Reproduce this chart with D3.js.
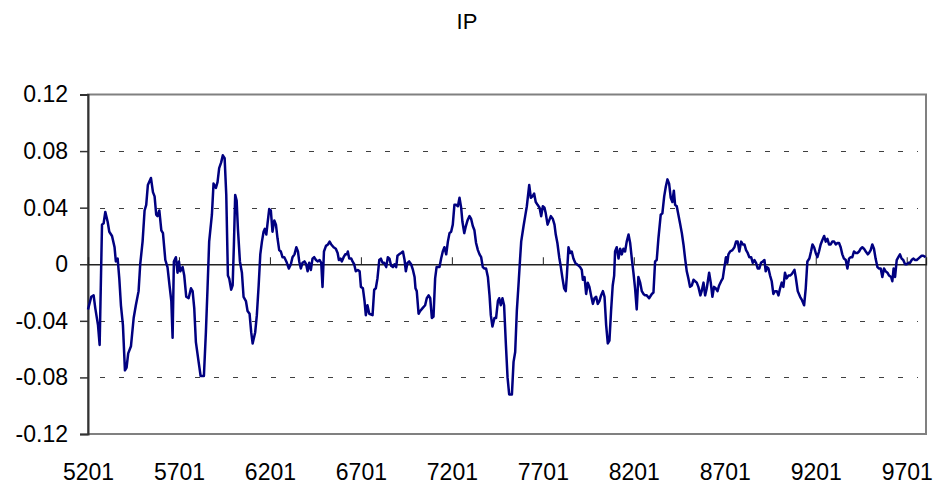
<!DOCTYPE html>
<html>
  <head>
    <meta charset="utf-8">
    <script src="https://d3js.org/d3.v7.min.js"></script>
    <title>IP</title>
    <style>
    body {
      margin: 0;
      background-color: #fff;
    }
    svg {
      display: block;
      font-family: "Liberation Sans", Arial, sans-serif;
    }
    .line {
      fill: none;
      stroke: #000080;
      stroke-width: 2.5px;
      stroke-linejoin: round;
    }
    .grid line {
      stroke: #404040;
      stroke-width: 1px;
      stroke-dasharray: 5, 14;
    }
    </style>
  </head>
  <body>
    <script type="text/javascript">
      let idx = [
        5201, 5219, 5232, 5241, 5256, 5265, 5278, 5287, 5296, 5309, 5318, 5333, 5347, 5354, 5364, 5373,
        5382, 5393, 5404, 5413, 5422, 5437, 5452, 5464, 5479, 5488, 5501, 5512, 5521, 5530, 5547, 5558,
        5567, 5576, 5583, 5593, 5604, 5613, 5626, 5638, 5649, 5659, 5666, 5673, 5684, 5693, 5701, 5708,
        5721, 5730, 5741, 5754, 5767, 5776, 5785, 5794, 5809, 5820, 5838, 5849, 5858, 5867, 5882, 5891,
        5904, 5913, 5922, 5933, 5942, 5952, 5961,
        5970, 5977, 5988, 5996, 6003, 6010, 6018, 6025, 6036, 6047, 6056, 6069, 6078, 6089, 6098, 6106,
        6120, 6129, 6139, 6148, 6157, 6166, 6173, 6181, 6188, 6197, 6206, 6215, 6225, 6234, 6243, 6252,
        6261, 6270, 6280, 6291, 6305, 6316, 6325, 6336, 6346, 6355, 6362, 6371, 6380, 6391, 6400, 6408,
        6417, 6426, 6435, 6444, 6454, 6463, 6474, 6483, 6490, 6498, 6509, 6520, 6529, 6538, 6551, 6563,
        6573, 6580, 6589, 6596, 6606, 6615, 6624, 6629, 6637, 6648, 6655, 6664, 6673, 6684, 6694, 6701,
        6712, 6721, 6728, 6737, 6747,
        6765, 6774, 6783, 6792, 6802, 6811, 6820, 6829, 6840, 6849, 6858, 6867, 6877, 6886, 6895, 6902,
        6911, 6922, 6932, 6941, 6948, 6957, 6966, 6977, 6987, 6996, 7001, 7008, 7018, 7027, 7040, 7054,
        7063, 7073, 7082, 7091, 7100, 7109, 7117, 7133, 7142, 7151, 7160, 7170, 7179, 7188, 7197, 7206,
        7215, 7225, 7234, 7243, 7252, 7259, 7269, 7278, 7287, 7298, 7307, 7316, 7325, 7334, 7344, 7353,
        7362, 7371, 7380, 7389, 7399, 7408, 7415, 7424, 7435, 7444, 7454, 7461, 7470, 7479, 7488, 7498,
        7507, 7516,
        7531, 7540, 7549, 7558, 7567, 7576, 7582, 7595, 7604, 7613, 7626, 7635, 7644, 7653, 7662, 7672,
        7683, 7692, 7701, 7710, 7717, 7727, 7736, 7745, 7756, 7765, 7772, 7781, 7791, 7800, 7809, 7818,
        7827, 7833, 7842, 7851, 7860, 7869, 7879, 7888, 7897, 7906, 7915, 7921, 7930, 7939, 7948, 7957,
        7966, 7976, 7985, 7994, 8003, 8012, 8021, 8031, 8040, 8049, 8058, 8067, 8076, 8085, 8093, 8098,
        8107, 8117, 8126, 8135, 8144, 8153, 8162, 8172, 8181, 8190, 8199, 8208, 8217, 8226, 8236, 8245,
        8254, 8263, 8272, 8285,
        8300, 8309, 8318, 8327, 8336, 8349, 8358, 8368, 8377, 8386, 8395, 8404, 8413, 8421, 8428, 8437,
        8446, 8455, 8465, 8474, 8483, 8492, 8501, 8510, 8520, 8529, 8538, 8547, 8556, 8567, 8574, 8584,
        8593, 8602, 8615, 8624, 8633, 8642, 8651, 8661, 8670, 8681, 8690, 8699, 8708, 8715, 8721, 8730,
        8743, 8754, 8763, 8772, 8781, 8791, 8800, 8809, 8818, 8827, 8836, 8846, 8855, 8864, 8873, 8882,
        8891, 8900, 8910, 8919, 8926, 8933, 8941, 8950, 8959, 8968, 8977, 8987, 8996, 9005, 9014, 9023,
        9032, 9041, 9051,
        9060, 9069, 9084, 9091, 9102, 9115, 9124, 9137, 9146, 9155, 9166, 9175, 9183, 9192, 9201, 9210,
        9219, 9228, 9237, 9247, 9256, 9265, 9274, 9283, 9292, 9302, 9311, 9320, 9329, 9338, 9347, 9356,
        9366, 9375, 9384, 9393, 9402, 9411, 9421, 9430, 9439, 9448, 9457, 9466, 9476, 9487, 9494, 9503,
        9512, 9521, 9530, 9540, 9549, 9558, 9567, 9576, 9585, 9595, 9604, 9615, 9622, 9629, 9637, 9646,
        9655, 9664, 9673, 9682, 9692, 9701, 9710, 9719, 9728, 9737, 9747, 9756, 9765, 9774, 9783, 9792,
        9805
      ]
      let ip = [
        -0.032, -0.023, -0.022, -0.031, -0.043, -0.057, 0.028, 0.029, 0.037, 0.030, 0.023, 0.020, 0.012, 0.002, 0.004, -0.010,
        -0.029, -0.043, -0.075, -0.073, -0.063, -0.058, -0.038, -0.029, -0.019, 0, 0.016, 0.038, 0.042, 0.056, 0.061, 0.051,
        0.048, 0.035, 0.034, 0.038, 0.024, 0.022, 0.003, -0.002, -0.015, -0.026, -0.052, 0.002, 0.005, -0.006, 0.002, -0.005,
        -0.002, -0.008, -0.023, -0.024, -0.017, -0.019, -0.031, -0.055, -0.069, -0.079, -0.079, -0.048, -0.017, 0.016, 0.035, 0.057,
        0.054, 0.058, 0.068, 0.072, 0.077, 0.075, 0.049,
        -0.008, -0.010, -0.018, -0.015, 0.014, 0.049, 0.045, 0.025, 0.002, -0.006, -0.023, -0.026, -0.033, -0.035, -0.048, -0.056,
        -0.048, -0.036, -0.015, 0.007, 0.016, 0.023, 0.025, 0.021, 0.029, 0.039, 0.038, 0.023, 0.031, 0.028, 0.018, 0.010,
        0.009, 0.005, 0.005, 0.002, -0.003, 0, 0.005, 0.007, 0.012, 0.009, 0.002, -0.003, 0.001, 0.002, 0, -0.005,
        0.001, -0.004, 0.004, 0.005, 0.003, 0.002, 0.003, 0.001, -0.016, 0.009, 0.013, 0.014, 0.016, 0.014, 0.012, 0.011,
        0.008, 0.003, 0.004, 0.002, 0.005, 0.007, 0.007, 0.009, 0.004, 0.004, 0.002, 0, -0.005, -0.004, -0.005, -0.016,
        -0.017, -0.026, -0.036, -0.029, -0.035,
        -0.036, -0.018, -0.017, -0.010, 0.003, 0.004, 0.001, 0.001, -0.002, 0.005, 0.004, -0.001, -0.002, 0, -0.002, 0.006,
        0.007, 0.008, 0.009, 0.003, -0.005, 0.001, 0.002, 0, -0.004, -0.009, -0.017, -0.019, -0.035, -0.033, -0.031, -0.029,
        -0.024, -0.022, -0.024, -0.038, -0.037, -0.010, -0.002, -0.002, 0.004, 0.009, 0.012, 0.007, 0.016, 0.022, 0.023, 0.028,
        0.042, 0.042, 0.041, 0.047, 0.040, 0.030, 0.022, 0.027, 0.031, 0.034, 0.032, 0.027, 0.024, 0.015, 0.010, 0.007,
        0.005, -0.002, -0.003, -0.003, -0.009, -0.022, -0.036, -0.044, -0.038, -0.038, -0.026, -0.024, -0.029, -0.024, -0.029, -0.057,
        -0.080, -0.092,
        -0.092, -0.069, -0.062, -0.033, -0.015, 0.004, 0.016, 0.027, 0.034, 0.041, 0.056, 0.047, 0.048, 0.050, 0.044, 0.042,
        0.040, 0.034, 0.041, 0.040, 0.036, 0.028, 0.031, 0.034, 0.032, 0.028, 0.021, 0.015, 0.005, -0.002, -0.010, -0.017,
        -0.019, -0.008, 0.012, 0.008, 0.009, 0.004, 0.001, 0, -0.001, -0.002, -0.004, -0.011, -0.009, -0.021, -0.013, -0.016,
        -0.022, -0.028, -0.024, -0.023, -0.028, -0.026, -0.022, -0.019, -0.023, -0.043, -0.056, -0.054, -0.033, -0.015, -0.008, 0.009,
        0.012, 0.004, 0.011, 0.007, 0.011, 0.009, 0.016, 0.021, 0.015, 0.004, -0.006, -0.017, -0.032, -0.009, -0.013, -0.019,
        -0.021, -0.022, -0.022, -0.024,
        -0.021, -0.020, 0.002, 0.003, 0.018, 0.035, 0.036, 0.048, 0.055, 0.060, 0.057, 0.047, 0.044, 0.052, 0.042, 0.041,
        0.035, 0.029, 0.022, 0.014, 0.004, -0.005, -0.010, -0.016, -0.015, -0.011, -0.012, -0.013, -0.016, -0.022, -0.019, -0.013,
        -0.022, -0.017, -0.006, -0.013, -0.023, -0.016, -0.017, -0.019, -0.015, -0.012, -0.010, -0.002, 0.005, 0.001, 0.007, 0.009,
        0.010, 0.012, 0.016, 0.016, 0.009, 0.016, 0.014, 0.014, 0.010, 0.008, 0.005, 0.005, 0.001, 0.003, 0.001, -0.003,
        -0.003, 0.001, 0.002, 0.003, -0.005, -0.002, -0.003, -0.008, -0.012, -0.021, -0.019, -0.019, -0.022, -0.017, -0.013, -0.016,
        -0.006, -0.010, -0.008,
        -0.008, -0.007, -0.004, -0.009, -0.019, -0.023, -0.025, -0.029, -0.017, 0.002, 0.004, 0.009, 0.014, 0.012, 0.008, 0.005,
        0.009, 0.014, 0.017, 0.020, 0.016, 0.018, 0.014, 0.014, 0.016, 0.016, 0.014, 0.015, 0.015, 0.012, 0.007, 0.004,
        0.003, -0.003, 0.004, 0.005, 0.005, 0.009, 0.008, 0.008, 0.009, 0.011, 0.012, 0.011, 0.009, 0.007, 0.008, 0.010,
        0.014, 0.011, 0.004, -0.002, -0.003, -0.003, -0.009, -0.003, -0.005, -0.006, -0.008, -0.009, -0.012, -0.003, -0.009, 0.003,
        0.005, 0.007, 0.004, 0.003, 0, 0, 0.001, 0.001, 0.003, 0.004, 0.003, 0.003, 0.004, 0.005, 0.006, 0.006,
        0.005
      ]
      let xTicks = [5201, 5701, 6201, 6701, 7201, 7701, 8201, 8701, 9201, 9701]
      let yTicks = [-0.12, -0.08, -0.04, 0, 0.04, 0.08, 0.12]
      let gridTicks = [-0.08, -0.04, 0.04, 0.08]

      let data = idx.map((d, i) => ({ n: d, v: ip[i] }))

      let w = 938
      let h = 489
      let pLeft = 88, pRight = 926, pTop = 94.5, pBottom = 434

      let svg = d3.select('body')
                  .append('svg')
                  .attr('width', w)
                  .attr('height', h)

      let xScale = d3.scaleLinear()
                     .domain([5201, 9807])
                     .range([pLeft, pRight])

      let yScale = d3.scaleLinear()
                     .domain([-0.12, 0.12])
                     .range([pBottom, pTop])

      // title
      svg.append('text')
         .attr('x', 467)
         .attr('y', 29)
         .attr('text-anchor', 'middle')
         .style('font-size', '22px')
         .text('IP')

      // dashed grid
      svg.append('g')
         .attr('class', 'grid')
         .selectAll('line')
         .data(gridTicks)
         .enter()
         .append('line')
         .attr('x1', pLeft + 12)
         .attr('x2', pRight - 8)
         .attr('y1', d => Math.round(yScale(d)) + 0.5)
         .attr('y2', d => Math.round(yScale(d)) + 0.5)

      // plot frame
      svg.append('rect')
         .attr('x', pLeft)
         .attr('y', pTop)
         .attr('width', pRight - pLeft)
         .attr('height', pBottom - pTop)
         .attr('fill', 'none')
         .attr('stroke', '#808080')
         .attr('stroke-width', 2)

      // y axis
      let yAxis = svg.append('g')
         .attr('transform', `translate(${pLeft}, 0)`)
         .call(d3.axisLeft(yScale)
                 .tickValues(yTicks)
                 .tickSize(8)
                 .tickPadding(12)
                 .tickFormat(d => d === 0 ? '0' : d.toFixed(2)))
      yAxis.select('.domain').attr('stroke', '#333').attr('stroke-width', 2)
      yAxis.selectAll('.tick line').attr('stroke', '#333').attr('stroke-width', 1.5)
      yAxis.selectAll('text')
           .style('font-size', '23px')
           .style('font-family', '"Liberation Sans", Arial, sans-serif')
           .attr('fill', '#000')

      // category axis along zero
      let zAxis = svg.append('g')
         .attr('transform', `translate(0, ${yScale(0)})`)
         .call(d3.axisTop(xScale)
                 .tickValues(xTicks.slice(1))
                 .tickSize(7)
                 .tickFormat(''))
      zAxis.select('.domain').attr('stroke', '#222').attr('stroke-width', 1.3)
      zAxis.selectAll('.tick line').attr('stroke', '#222')

      // category labels at bottom
      let xAxis = svg.append('g')
         .attr('transform', `translate(0, ${pBottom})`)
         .call(d3.axisBottom(xScale)
                 .tickValues(xTicks)
                 .tickSize(0)
                 .tickPadding(30)
                 .tickFormat(d3.format('d')))
      xAxis.select('.domain').remove()
      xAxis.selectAll('text')
           .style('font-size', '23px')
           .style('font-family', '"Liberation Sans", Arial, sans-serif')
           .attr('fill', '#000')

      let valueline = d3.line()
                        .x(d => xScale(d.n))
                        .y(d => yScale(d.v))

      svg.append('path')
         .attr('class', 'line')
         .datum(data)
         .attr('d', valueline)
    </script>
  </body>
</html>
